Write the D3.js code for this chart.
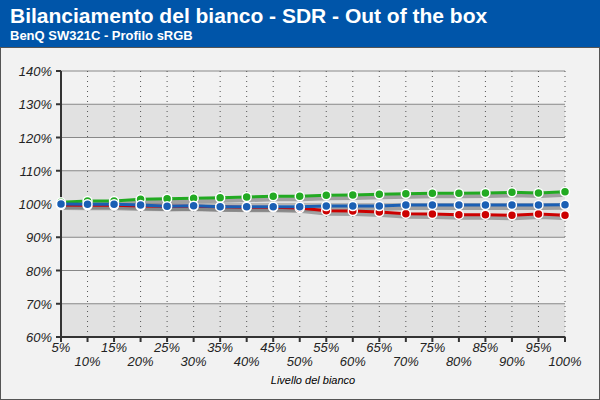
<!DOCTYPE html>
<html><head><meta charset="utf-8">
<script src="https://cdn.jsdelivr.net/npm/d3@7"></script>
<style>body{margin:0;background:#fff}svg{display:block;font-family:"Liberation Sans",Arial,sans-serif}</style>
</head><body><div id="chart"></div>
<script>
var levels = [5,10,15,20,25,30,35,40,45,50,55,60,65,70,75,80,85,90,95,100];
var green = [100.5,100.9,100.9,101.4,101.6,101.7,101.9,102.1,102.3,102.3,102.6,102.7,102.9,103.1,103.2,103.2,103.3,103.5,103.3,103.7];
var red = [99.7,99.6,99.6,99.4,99.3,99.3,99.2,99.0,99.0,98.8,98.0,97.9,97.6,97.1,97.0,96.8,96.8,96.6,97.0,96.6];
var blue = [100,99.9,99.9,99.7,99.3,99.5,99.2,99.2,99.2,99.2,99.4,99.4,99.4,99.7,99.7,99.7,99.7,99.7,99.7,99.8];
var yTicks = [60,70,80,90,100,110,120,130,140];
var darkBands = [[120,130],[90,110],[60,70]];

var svg = d3.select("#chart").append("svg").attr("width", 600).attr("height", 400);

// header
svg.append("rect").attr("width", 600).attr("height", 47).attr("fill", "#0055a9");
svg.append("text").attr("x", 10).attr("y", 23).attr("fill", "#fff").attr("font-size", 21).attr("font-weight", "bold")
  .text("Bilanciamento del bianco - SDR - Out of the box");
svg.append("text").attr("x", 10).attr("y", 40).attr("fill", "#fff").attr("font-size", 13).attr("font-weight", "bold")
  .text("BenQ SW321C - Profilo sRGB");
svg.append("rect").attr("x", 0.5).attr("y", 47.5).attr("width", 599).attr("height", 352).attr("fill", "#f2f2f2").attr("stroke", "#555");

var x = d3.scaleLinear().domain([5, 100]).range([61, 565]);
var y = d3.scaleLinear().domain([60, 140]).range([337, 71]);

darkBands.forEach(function(b) {
  svg.append("rect").attr("x", 61).attr("width", 504).attr("y", y(b[1])).attr("height", y(b[0]) - y(b[1])).attr("fill", "#e1e1e1");
});
svg.selectAll(".hg").data(yTicks).enter().append("line")
  .attr("x1", 61).attr("x2", 565).attr("y1", d => y(d)).attr("y2", d => y(d)).attr("stroke", "#888");
svg.selectAll(".vg").data(levels.slice(1)).enter().append("line")
  .attr("x1", d => x(d)).attr("x2", d => x(d)).attr("y1", 71).attr("y2", 337)
  .attr("stroke", "#555").attr("stroke-dasharray", "1,4");

// axes
svg.append("line").attr("x1", 61).attr("x2", 61).attr("y1", 71).attr("y2", 337).attr("stroke", "#333").attr("stroke-width", 2);
svg.append("line").attr("x1", 60).attr("x2", 565).attr("y1", 337).attr("y2", 337).attr("stroke", "#333").attr("stroke-width", 2);
svg.selectAll(".yt").data(yTicks).enter().append("line")
  .attr("x1", 56).attr("x2", 61).attr("y1", d => y(d)).attr("y2", d => y(d)).attr("stroke", "#333").attr("stroke-width", 2);
svg.selectAll(".yl").data(yTicks).enter().append("text")
  .attr("x", 52).attr("y", d => y(d) + 5).attr("text-anchor", "end").attr("font-size", 13).attr("font-style", "italic").attr("fill", "#222")
  .text(d => d + "%");
svg.selectAll(".xt").data(levels).enter().append("line")
  .attr("x1", d => x(d)).attr("x2", d => x(d)).attr("y1", 337).attr("y2", 342).attr("stroke", "#333").attr("stroke-width", 2);
svg.selectAll(".xl").data(levels).enter().append("text")
  .attr("x", d => x(d)).attr("y", (d, i) => i % 2 ? 366 : 352).attr("text-anchor", "middle")
  .attr("font-size", 13).attr("font-style", "italic").attr("fill", "#222").text(d => d + "%");
svg.append("text").attr("x", 313).attr("y", 384).attr("text-anchor", "middle").attr("font-size", 11).attr("font-style", "italic")
  .text("Livello del bianco");

var series = [{v: red, c: "#cc0000"}, {v: green, c: "#22aa22"}, {v: blue, c: "#1a5fb4"}];
var line = d3.line().x((d, i) => x(levels[i])).y(d => y(d));

series.forEach(function(s) {
  svg.append("path").datum(s.v).attr("d", line).attr("transform", "translate(2,3)")
    .attr("fill", "none").attr("stroke", "#777").attr("stroke-width", 4).attr("opacity", 0.6);
});
series.forEach(function(s) {
  svg.append("path").datum(s.v).attr("d", line).attr("fill", "none").attr("stroke", s.c).attr("stroke-width", 3);
  svg.selectAll(null).data(s.v).enter().append("circle")
    .attr("cx", (d, i) => x(levels[i])).attr("cy", d => y(d)).attr("r", 4.5)
    .attr("fill", s.c).attr("stroke", "#fff").attr("stroke-width", 1.5);
});
</script></body></html>
